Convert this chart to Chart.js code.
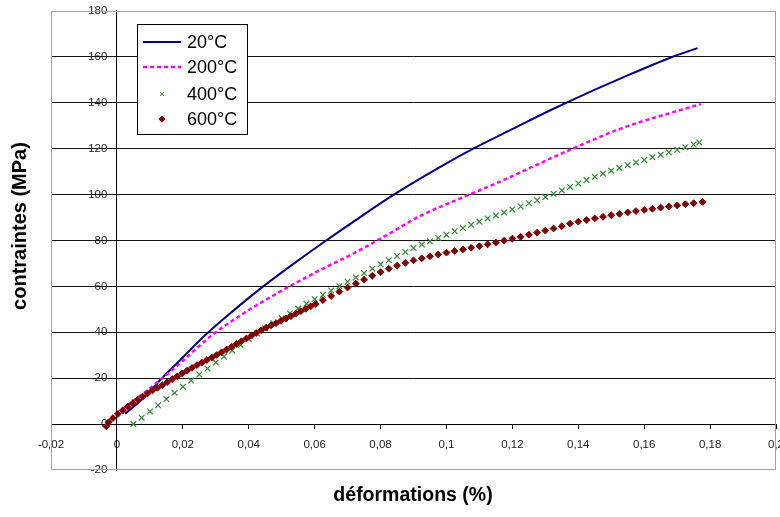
<!DOCTYPE html>
<html>
<head>
<meta charset="utf-8">
<title>contraintes / déformations</title>
<script src="https://cdn.jsdelivr.net/npm/chart.js@4.4.1/dist/chart.umd.min.js"></script>
<style>
  html, body { margin: 0; padding: 0; background: #fff; overflow: hidden; }
  #wrap { width: 794px; height: 517px; }
</style>
</head>
<body>
<div id="wrap"><canvas id="chart" width="794" height="517"></canvas></div>
<script>
// --- DATA ---
const temperatures = ['20°C', '200°C', '400°C', '600°C'];

const xTicks = [-0.02, 0, 0.02, 0.04, 0.06, 0.08, 0.1, 0.12, 0.14, 0.16, 0.18, 0.2];
const yTicks = [-20, 0, 20, 40, 60, 80, 100, 120, 140, 160, 180];

// 20°C - solid line
const strain20 = [0.0025, 0.008, 0.013, 0.019, 0.027, 0.035, 0.0444, 0.0545, 0.0635, 0.0716,
    0.0832, 0.0959, 0.108, 0.1201, 0.1312, 0.1424, 0.1524, 0.1681, 0.1762];
const stress20 = [4.5, 11.2, 19.0, 27.6, 39.0, 49.0, 60.0, 70.8, 80.0, 88.0,
    99.2, 110.2, 119.9, 128.6, 136.5, 144.0, 150.3, 159.7, 163.8];

// 200°C - dashed line
const strain200 = [-0.0035, -0.001, 0.003, 0.008, 0.013, 0.0196, 0.0282, 0.0383, 0.0484, 0.0615,
    0.0716, 0.0817, 0.0918, 0.105, 0.117, 0.1282, 0.1383, 0.1534, 0.1686, 0.1772];
const stress200 = [0.5, 3.2, 8.0, 13.3, 19.1, 27.1, 38.0, 48.1, 56.8, 67.0,
    74.2, 82.2, 90.5, 98.8, 106.1, 113.5, 120.0, 129.0, 135.8, 139.4];

// 400°C - x markers
const strain400 = [0.005, 0.0075, 0.01, 0.0125, 0.015, 0.0175, 0.02, 0.0225, 0.025, 0.0275,
    0.03, 0.0325, 0.035, 0.0375, 0.04, 0.0425, 0.045, 0.0475, 0.05, 0.0525,
    0.055, 0.0575, 0.06, 0.0625, 0.065, 0.0675, 0.07, 0.0725, 0.075, 0.0775,
    0.08, 0.0825, 0.085, 0.0875, 0.09, 0.0925, 0.095, 0.0975, 0.1, 0.1025,
    0.105, 0.1075, 0.11, 0.1125, 0.115, 0.1175, 0.12, 0.1225, 0.125, 0.1275,
    0.13, 0.1325, 0.135, 0.1375, 0.14, 0.1425, 0.145, 0.1475, 0.15, 0.1525,
    0.155, 0.1575, 0.16, 0.1625, 0.165, 0.1675, 0.17, 0.1725, 0.175, 0.1767];
const stress400 = [0.0, 2.8, 5.5, 8.2, 10.9, 13.6, 16.3, 19.0, 21.6, 24.2,
    26.8, 29.4, 32.0, 34.5, 37.0, 39.5, 41.7, 43.9, 46.1, 48.2,
    50.3, 52.4, 54.4, 56.3, 58.2, 60.1, 62.0, 63.9, 65.8, 67.7,
    69.6, 71.4, 73.2, 75.0, 76.7, 78.2, 79.6, 81.1, 82.5, 84.0,
    85.4, 86.8, 88.2, 89.6, 90.9, 92.2, 93.5, 94.8, 96.2, 97.5,
    98.9, 100.3, 101.8, 103.3, 104.8, 106.3, 107.7, 109.1, 110.4, 111.6,
    112.8, 114.0, 115.1, 116.2, 117.3, 118.4, 119.5, 120.6, 121.8, 122.7];

// 600°C - diamond markers
const strain600 = [-0.0032, -0.0025, -0.0012, 0.0003, 0.0018, 0.0033, 0.0048, 0.0063, 0.0078, 0.0093,
    0.0108, 0.0123, 0.0138, 0.0153, 0.0168, 0.0183, 0.0198, 0.0213, 0.0228, 0.0243,
    0.0258, 0.0273, 0.0288, 0.0303, 0.0318, 0.0333, 0.0348, 0.0363, 0.0378, 0.0393,
    0.0408, 0.0423, 0.0438, 0.0453, 0.0468, 0.0483, 0.0498, 0.0513, 0.0528, 0.0543,
    0.0558, 0.0573, 0.0588, 0.0603, 0.0625, 0.065, 0.0675, 0.07, 0.0725, 0.075,
    0.0775, 0.08, 0.0825, 0.085, 0.0875, 0.09, 0.0925, 0.095, 0.0975, 0.1,
    0.1025, 0.105, 0.1075, 0.11, 0.1125, 0.115, 0.1175, 0.12, 0.1225, 0.125,
    0.1275, 0.13, 0.1325, 0.135, 0.1375, 0.14, 0.1425, 0.145, 0.1475, 0.15,
    0.1525, 0.155, 0.1575, 0.16, 0.1625, 0.165, 0.1675, 0.17, 0.1725, 0.175, 0.1777];
const stress600 = [-1.0, 0.8, 2.6, 4.4, 6.0, 7.6, 9.1, 10.6, 12.0, 13.4,
    14.7, 15.8, 17.0, 18.3, 19.6, 20.8, 22.1, 23.3, 24.5, 25.7,
    26.8, 27.9, 29.0, 30.1, 31.3, 32.5, 33.7, 34.9, 36.1, 37.3,
    38.5, 39.7, 40.9, 42.0, 43.0, 44.0, 45.0, 46.0, 47.0, 48.1,
    49.2, 50.2, 51.3, 52.3, 54.0, 55.8, 57.7, 59.5, 61.2, 62.9,
    64.6, 66.2, 67.7, 69.0, 70.2, 71.3, 72.2, 73.1, 73.9, 74.7,
    75.4, 76.1, 76.8, 77.5, 78.3, 79.1, 79.9, 80.8, 81.6, 82.5,
    83.4, 84.3, 85.2, 86.2, 87.3, 88.2, 88.9, 89.6, 90.3, 91.0,
    91.6, 92.2, 92.8, 93.3, 93.8, 94.3, 94.8, 95.3, 95.8, 96.2, 96.8];

const FONT = '"Liberation Sans", Arial, sans-serif';

function toPoints(xs, ys) {
    return xs.map((x, i) => ({ x: x, y: ys[i] }));
}

// French decimal comma for tick labels
function frNumber(v) {
    const r = Math.round(v * 100) / 100;
    return String(r).replace('.', ',');
}

// --- PLUGIN: white background, plot frame, axis titles, legend box ---
const decorPlugin = {
    id: 'decor',
    beforeDraw(chart) {
        const ctx = chart.ctx;
        ctx.save();
        ctx.fillStyle = '#fff';
        ctx.fillRect(0, 0, chart.width, chart.height);
        ctx.restore();
    },
    afterDraw(chart) {
        const ctx = chart.ctx;
        const area = chart.chartArea;
        ctx.save();

        // plot frame (grey)
        ctx.strokeStyle = '#a0a0a0';
        ctx.lineWidth = 1;
        ctx.strokeRect(Math.round(area.left) + 0.5, Math.round(area.top) + 0.5,
            Math.round(area.right - area.left) - 1, Math.round(area.bottom - area.top) - 1);

        // axis titles
        ctx.fillStyle = '#000';
        ctx.textAlign = 'center';
        ctx.textBaseline = 'middle';
        ctx.font = 'bold 19.5px ' + FONT;
        ctx.fillText('déformations (%)', 413, 496);
        ctx.save();
        ctx.font = 'bold 20px ' + FONT;
        ctx.translate(20, 226);
        ctx.rotate(-Math.PI / 2);
        ctx.fillText('contraintes (MPa)', 0, 0);
        ctx.restore();

        // legend
        const lx = 137, ly = 24, lw = 110, lh = 110;
        ctx.fillStyle = '#fff';
        ctx.fillRect(lx, ly, lw, lh);
        ctx.strokeStyle = '#000';
        ctx.lineWidth = 1;
        ctx.strokeRect(lx + 0.5, ly + 0.5, lw, lh);

        const rows = [42, 67, 94, 119];
        chart.data.datasets.forEach((ds, i) => {
            const y = rows[i];
            if (ds.showLine) {
                ctx.save();
                ctx.strokeStyle = ds.borderColor;
                ctx.lineWidth = ds.borderWidth;
                ctx.setLineDash(ds.borderDash || []);
                ctx.beginPath();
                ctx.moveTo(143, y);
                ctx.lineTo(181, y);
                ctx.stroke();
                ctx.restore();
            } else if (ds.pointStyle === 'crossRot') {
                ctx.strokeStyle = ds.borderColor;
                ctx.lineWidth = 1;
                ctx.beginPath();
                ctx.moveTo(160, y - 2); ctx.lineTo(164, y + 2);
                ctx.moveTo(164, y - 2); ctx.lineTo(160, y + 2);
                ctx.stroke();
            } else {
                ctx.fillStyle = ds.backgroundColor;
                ctx.beginPath();
                ctx.moveTo(162, y - 3.5); ctx.lineTo(165.5, y);
                ctx.lineTo(162, y + 3.5); ctx.lineTo(158.5, y);
                ctx.closePath();
                ctx.fill();
            }
            ctx.fillStyle = '#000';
            ctx.font = '18px ' + FONT;
            ctx.textAlign = 'left';
            ctx.textBaseline = 'middle';
            ctx.fillText(ds.label, 187, y + 1);
        });

        ctx.restore();
    }
};

const ctx = document.getElementById('chart').getContext('2d');

new Chart(ctx, {
    type: 'scatter',
    data: {
        datasets: [
            {
                label: temperatures[0],
                data: toPoints(strain20, stress20),
                showLine: true,
                borderColor: '#000080',
                borderWidth: 2,
                cubicInterpolationMode: 'monotone',
                pointRadius: 0,
                order: 3
            },
            {
                label: temperatures[1],
                data: toPoints(strain200, stress200),
                showLine: true,
                borderColor: '#ff00ff',
                borderWidth: 2.5,
                borderDash: [4, 3],
                cubicInterpolationMode: 'monotone',
                pointRadius: 0,
                order: 2
            },
            {
                label: temperatures[2],
                data: toPoints(strain400, stress400),
                showLine: false,
                pointStyle: 'crossRot',
                pointRadius: 4,
                borderColor: '#2f8a2f',
                backgroundColor: '#2f8a2f',
                pointBorderWidth: 1.2,
                order: 1
            },
            {
                label: temperatures[3],
                data: toPoints(strain600, stress600),
                showLine: false,
                pointStyle: 'rectRot',
                pointRadius: 3.4,
                borderColor: '#800000',
                backgroundColor: '#800000',
                pointBorderWidth: 1,
                order: 0
            }
        ]
    },
    options: {
        responsive: false,
        animation: false,
        layout: { padding: { left: 51, top: 10, right: 13, bottom: 47 } },
        plugins: {
            legend: { display: false },
            tooltip: { enabled: false }
        },
        scales: {
            x: {
                type: 'linear',
                min: xTicks[0],
                max: xTicks[xTicks.length - 1],
                position: { y: 0 },
                afterBuildTicks: scale => { scale.ticks = xTicks.map(v => ({ value: v })); },
                ticks: {
                    autoSkip: false,
                    maxRotation: 0,
                    padding: 10,
                    color: '#222',
                    font: { family: FONT, size: 11.5 },
                    callback: v => frNumber(v)
                },
                grid: { drawOnChartArea: false, drawTicks: true, tickLength: 4, color: '#000' },
                border: { display: true, color: '#000', width: 1 }
            },
            y: {
                type: 'linear',
                min: yTicks[0],
                max: yTicks[yTicks.length - 1],
                position: { x: 0 },
                afterBuildTicks: scale => { scale.ticks = yTicks.map(v => ({ value: v })); },
                ticks: {
                    autoSkip: false,
                    padding: 4,
                    color: '#222',
                    font: { family: FONT, size: 11.5 },
                    // positioned axis ignores padding, so keep labels off the axis line
                    callback: v => frNumber(v) + '   '
                },
                grid: {
                    drawTicks: true,
                    tickLength: 6,
                    color: c => (c.tick && (c.tick.value === yTicks[0] || c.tick.value === yTicks[yTicks.length - 1]))
                        ? 'rgba(0,0,0,0)' : '#111'
                },
                border: { display: true, color: '#000', width: 1 }
            }
        }
    },
    plugins: [decorPlugin]
});
</script>
</body>
</html>
